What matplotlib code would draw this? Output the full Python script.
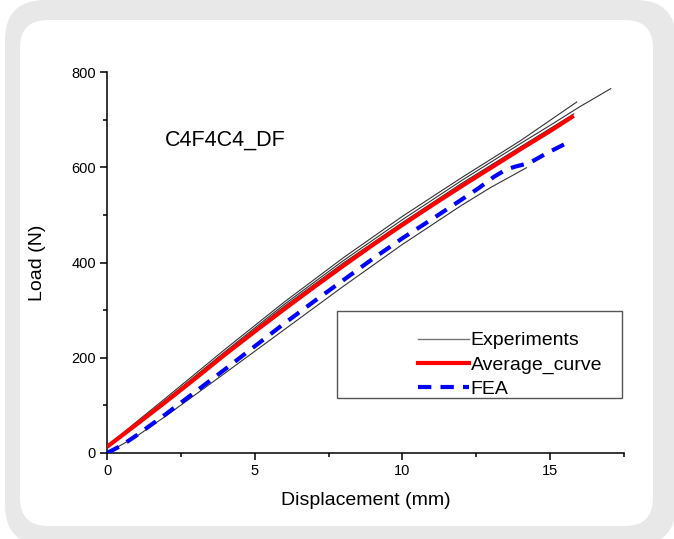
import matplotlib
matplotlib.use("Agg")
import matplotlib.pyplot as plt
from matplotlib.patches import FancyBboxPatch, Rectangle
from matplotlib.ticker import MultipleLocator
from matplotlib.lines import Line2D

plt.rcParams['font.family'] = ['Liberation Sans', 'DejaVu Sans']

# Experimental load-displacement curves (mm, N)
exp1_x = [0, 2, 4, 6, 8, 10, 12, 14, 15, 16, 17.05]
exp1_y = [12, 112, 213, 312, 404, 490, 572, 650, 688, 727, 765]
exp2_x = [0, 2, 4, 6, 8, 10, 12, 14, 15.9]
exp2_y = [15, 116, 218, 317, 410, 497, 578, 656, 737]
exp3_x = [0, 2, 4, 6, 8, 10, 12, 14, 15.8]
exp3_y = [14, 110, 210, 308, 399, 484, 566, 643, 712]
exp4_x = [0, 1, 2, 4, 6, 8, 10, 12, 13, 14.2]
exp4_y = [0, 35, 78, 168, 259, 350, 438, 520, 558, 599]

# Averaged experimental curve
avg_x = [0, 1, 2, 3, 4, 5, 6, 7, 8, 9, 10, 11, 12, 13, 14, 15, 15.8]
avg_y = [13, 60, 108, 157, 207, 255, 302, 348, 393, 437, 479, 520, 560, 599, 638, 676, 708]

# Finite element prediction
fea_x = [0, 0.5, 1, 2, 3, 4, 5, 6, 7, 8, 9, 10, 11, 12, 12.6, 13.1, 13.5, 13.8, 14.3, 14.9, 15.7]
fea_y = [0, 16, 37, 82, 129, 176, 224, 272, 318, 363, 408, 451, 491, 532, 557, 580, 595, 601, 609, 630, 655]

W, H = 674, 539
fig = plt.figure(figsize=(W / 100, H / 100), dpi=100)
fig.patch.set_facecolor('white')

# Rounded card background
fig.patches.append(FancyBboxPatch((5, -6), 671, 545, boxstyle="round,pad=0,rounding_size=40",
                                  transform=None, facecolor='#e8e8e8', edgecolor='none', zorder=-10))
fig.patches.append(FancyBboxPatch((20, 13), 633, 506, boxstyle="round,pad=0,rounding_size=28",
                                  transform=None, facecolor='white', edgecolor='none', zorder=-9))

ax = fig.add_axes([107 / W, 1 - 453 / H, (624 - 107) / W, (453 - 72) / H])
ax.set_facecolor('none')

for ex, ey in [(exp1_x, exp1_y), (exp2_x, exp2_y), (exp3_x, exp3_y), (exp4_x, exp4_y)]:
    ax.plot(ex, ey, color='#333333', lw=0.8, zorder=2)
ax.plot(avg_x, avg_y, color='#ff0000', lw=3.0, zorder=3, solid_capstyle='butt')
ax.plot(fea_x, fea_y, color='#0000ff', lw=3.0, ls=(0, (3.2, 2.2)), zorder=4)

ax.set_xlim(0, 17.5)
ax.set_ylim(0, 800)
ax.xaxis.set_major_locator(MultipleLocator(5))
ax.xaxis.set_minor_locator(MultipleLocator(2.5))
ax.yaxis.set_major_locator(MultipleLocator(200))
ax.yaxis.set_minor_locator(MultipleLocator(100))
for side in ['top', 'right']:
    ax.spines[side].set_visible(False)
for side in ['left', 'bottom']:
    ax.spines[side].set_linewidth(1.1)
ax.tick_params(which='major', direction='out', length=5, width=1.1, labelsize=10.5, pad=3)
ax.tick_params(which='minor', direction='out', length=3, width=1.1)

ax.set_xlabel('Displacement (mm)', fontsize=14, labelpad=10)
ax.set_ylabel('Load (N)', fontsize=14, labelpad=18)

ax.text(0.112, 0.82, 'C4F4C4_DF', transform=ax.transAxes, fontsize=15.5, va='center', ha='left')

# Legend frame and entries
ax.add_patch(Rectangle((0.445, 0.144), 0.551, 0.229, transform=ax.transAxes,
                       facecolor='white', edgecolor='#555555', lw=1.0, zorder=5))
handles = [Line2D([], [], color='#777777', lw=1.0),
           Line2D([], [], color='#ff0000', lw=3.0),
           Line2D([], [], color='#0000ff', lw=3.0, ls=(0, (3.2, 2.2)))]
leg = ax.legend(handles, ['Experiments', 'Average_curve', 'FEA'], loc='upper left',
                bbox_to_anchor=(0.602, 0.318), frameon=False, fontsize=14,
                handlelength=2.6, handletextpad=0.1, labelspacing=0.34, borderpad=0,
                borderaxespad=0)
leg.set_zorder(6)

fig.savefig('out.png', dpi=100)
